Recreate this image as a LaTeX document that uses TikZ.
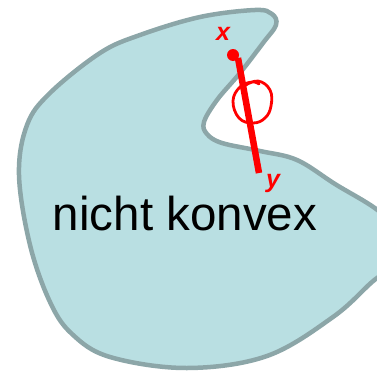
\documentclass[tikz,border=0pt]{standalone}
\usepackage{fontspec}
\setmainfont{Liberation Sans}
\usepackage{xcolor}
\usetikzlibrary{positioning}
\definecolor{blobfill}{HTML}{B9DFE2}
\definecolor{blobline}{HTML}{8CA6A8}

\begin{document}
\begin{tikzpicture}[x=1pt, y=-1pt,
  blob/.style={draw=blobline, fill=blobfill, line width=4.5pt},
  seg/.style={draw=red, line width=6.5pt},
  scribble/.style={draw=red, line width=2.8pt, line cap=round, line join=round},
  hand/.style={text=red, font=\fontsize{25}{25}\selectfont\bfseries\itshape, inner sep=0pt},
  lbl/.style={font=\fontsize{47.5}{50}\selectfont, inner sep=0pt}
]
  \useasboundingbox (0,0) rectangle (377,372);
  % the set
  \path[blob] plot[smooth cycle, tension=0.6] coordinates {
    (19,175) (27,125) (50,93) (100,53) (140,35) (200,17) (255,10) (272,14)
    (276,25) (263,43) (240,73) (217,100) (204,122) (207,134) (222,143)
    (260,151) (297,160) (335,184) (380,212) (402,240) (392,266) (372,282)
    (333,317) (267,356) (187,368) (110,357) (72,334) (50,302) (30,245)};
  \node[lbl, anchor=base] (name) at (185,230) {nicht konvex};

  % segment x--y leaving the set
  \node[circle, fill=red, inner sep=0pt, minimum size=12pt] (xdot) at (233,55) {};
  \coordinate (xstart) at (238,58);
  \coordinate (yend) at (259,173);
  \draw[seg] (xstart) -- (yend);
  \node[hand] (xlbl) at (223,34) {x};
  \node[hand] (ylbl) at (273,183) {y};
  \draw[scribble] plot[smooth, tension=0.7] coordinates {
    (244,86) (258,81) (270,90) (271,106) (265,118) (253,123) (239,118)
    (233,101) (240,87) (252,82) (259,84)};
\end{tikzpicture}
\end{document}
